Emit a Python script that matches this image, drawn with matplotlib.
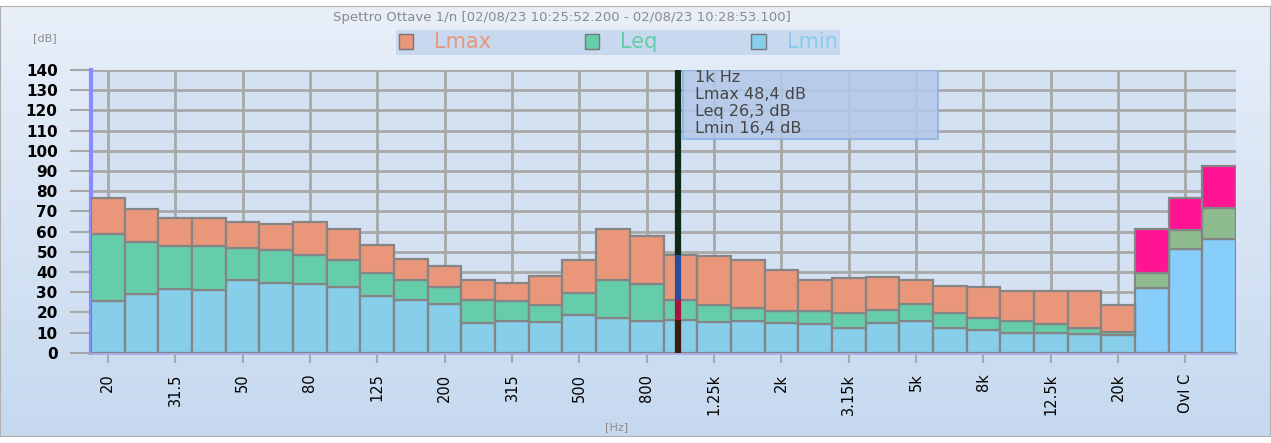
import numpy as np
import matplotlib
matplotlib.use("Agg")
import matplotlib.pyplot as plt
from matplotlib.patches import Rectangle, Patch

# ---- data ----
bands = ["20", "25", "31.5", "40", "50", "63", "80", "100", "125", "160",
         "200", "250", "315", "400", "500", "630", "800", "1k", "1.25k", "1.6k",
         "2k", "2.5k", "3.15k", "4k", "5k", "6.3k", "8k", "10k", "12.5k", "16k",
         "20k", "Ovl A", "Ovl C", "Ovl Z"]
lmax = [76.8, 71.0, 66.9, 66.9, 64.6, 63.6, 64.9, 61.1, 53.5, 46.4, 42.9, 36.0,
        34.5, 38.0, 45.9, 61.3, 57.8, 48.4, 48.0, 45.9, 41.0, 36.0, 36.8, 37.5,
        36.0, 33.2, 32.5, 30.4, 30.4, 30.4, 23.5, 61.3, 76.8, 92.3]
leq = [58.6, 55.0, 52.8, 52.8, 52.0, 50.9, 48.5, 45.9, 39.5, 35.9, 32.4, 26.1,
       25.5, 23.5, 29.7, 36.0, 34.0, 26.3, 23.5, 22.1, 20.5, 20.5, 19.8, 21.1,
       24.0, 19.8, 17.0, 15.5, 14.4, 12.1, 10.4, 39.5, 60.8, 71.7]
lmin = [25.6, 29.1, 31.7, 31.1, 36.0, 34.7, 33.9, 32.5, 28.2, 26.1, 24.1, 14.9,
        15.5, 15.1, 18.5, 17.2, 15.7, 16.4, 15.2, 15.7, 14.9, 14.4, 12.2, 14.9,
        15.5, 12.2, 11.2, 9.9, 9.9, 9.4, 8.6, 31.9, 51.5, 56.3]
n_total = 3          # last bars are overall levels
cursor = 17          # 1k Hz band under the cursor

# ---- colours ----
C_MAX, C_EQ, C_MIN = "#e9967a", "#66cdaa", "#87ceeb"
T_MAX, T_EQ, T_MIN = "#ff1493", "#8fbc8f", "#87cefa"
EDGE = "#858585"; GRID = "#a8a8a8"; TXT = "#8a8a8a"

W, H = 1271, 443
fig = plt.figure(figsize=(W / 100, H / 100), dpi=100, facecolor="white")

# panel background gradient
bg = fig.add_axes([0, 7 / H, 1270 / W, 430 / H], zorder=-10)
grad = np.linspace(0, 1, 256).reshape(-1, 1)
bg.imshow(grad, aspect="auto", extent=[0, 1, 0, 1],
          cmap=matplotlib.colors.LinearSegmentedColormap.from_list(
              "bg", ["#c6d9ef", "#e8eff9"]), origin="lower")
bg.set_xticks([]); bg.set_yticks([])
for s in bg.spines.values():
    s.set_color("#b0b0b0")

ax = fig.add_axes([91 / W, (H - 352.7) / H, (1236 - 91) / W, 282.7 / H])
ax.set_facecolor("#d4e1f2")
x = np.arange(len(bands))
lmin_a, leq_a, lmax_a = map(np.array, (lmin, leq, lmax))
is_tot = x >= len(bands) - n_total
c_min = [T_MIN if t else C_MIN for t in is_tot]
c_eq = [T_EQ if t else C_EQ for t in is_tot]
c_max = [T_MAX if t else C_MAX for t in is_tot]

kw = dict(width=1.0, edgecolor=EDGE, linewidth=1.6, zorder=3)
ax.bar(x, lmin_a, color=c_min, **kw)
ax.bar(x, leq_a - lmin_a, bottom=lmin_a, color=c_eq, **kw)
ax.bar(x, lmax_a - leq_a, bottom=leq_a, color=c_max, **kw)

ax.set_xlim(-0.5, len(bands) - 0.5)
ax.set_ylim(0, 140)
ax.set_yticks(range(0, 141, 10))
ax.set_xticks(x[::2])
ax.set_xticklabels(bands[::2], rotation=90, fontsize=10.5, color="black")
for lab in ax.get_yticklabels():
    lab.set_fontweight("bold"); lab.set_fontsize(11)
ax.tick_params(axis="y", length=15, color=GRID, width=1.5, pad=9)
ax.tick_params(axis="x", length=7, color=GRID, width=1.5, pad=8)
ax.grid(True, color=GRID, lw=2, zorder=0)
ax.set_axisbelow(True)
for s in ("top", "right"):
    ax.spines[s].set_visible(False)
ax.spines["left"].set_color("#8a8aff"); ax.spines["left"].set_linewidth(3)
ax.spines["bottom"].set_color("#a9a9e6"); ax.spines["bottom"].set_linewidth(2)

# cursor line through the 1k band
cx = cursor - 0.08
segs = [(0, lmin[cursor], "#3e1c0c"), (lmin[cursor], leq[cursor], "#a8143e"),
        (leq[cursor], lmax[cursor], "#2d4c9e"), (lmax[cursor], 140, "#0e2a16")]
for y0, y1, c in segs:
    ax.plot([cx, cx], [y0, y1], color=c, lw=4.5, zorder=5, solid_capstyle="butt")

# tooltip box
ax.add_patch(Rectangle((17.08, 105.8), 7.57, 34.2, facecolor="#b3c9e9",
                       edgecolor="#8fb2e3", lw=1.5, alpha=0.85, zorder=6))
tip = ["1k Hz", f"Lmax {lmax[cursor]:.1f} dB".replace(".", ","),
       f"Leq {leq[cursor]:.1f} dB".replace(".", ","),
       f"Lmin {lmin[cursor]:.1f} dB".replace(".", ",")]
for i, t in enumerate(tip):
    ax.text(17.45, 136.4 - 8.45 * i, t, fontsize=11.5, color="#454545",
            va="center", ha="left", zorder=7)

# title, unit labels
fig.text(562 / W, 1 - 17 / H, "Spettro Ottave 1/n [02/08/23 10:25:52.200 - 02/08/23 10:28:53.100]",
         ha="center", va="center", fontsize=9.5, color=TXT)
fig.text(45 / W, 1 - 38 / H, "[dB]", ha="center", va="center", fontsize=8, color=TXT)
fig.text(617 / W, 1 - 427 / H, "[Hz]", ha="center", va="center", fontsize=8, color=TXT)

# legend strip
handles = [Patch(facecolor=C_MAX, edgecolor="#777777"),
           Patch(facecolor=C_EQ, edgecolor="#777777"),
           Patch(facecolor=C_MIN, edgecolor="#777777")]
leg = fig.legend(handles, ["Lmax", "Leq", "Lmin"], loc="center",
                 bbox_to_anchor=(618 / W, 1 - 42.5 / H), ncol=3, fontsize=15,
                 labelcolor=[C_MAX, C_EQ, C_MIN], handlelength=0.7, handleheight=0.7,
                 columnspacing=4.5, handletextpad=1.0, borderpad=0.1,
                 frameon=True, fancybox=False, facecolor="#c8d8ee",
                 edgecolor="none", borderaxespad=0)
leg.get_frame().set_alpha(1)
leg.get_frame().set_width(890 - 347)

fig.savefig("out.png", dpi=100, facecolor="white")
